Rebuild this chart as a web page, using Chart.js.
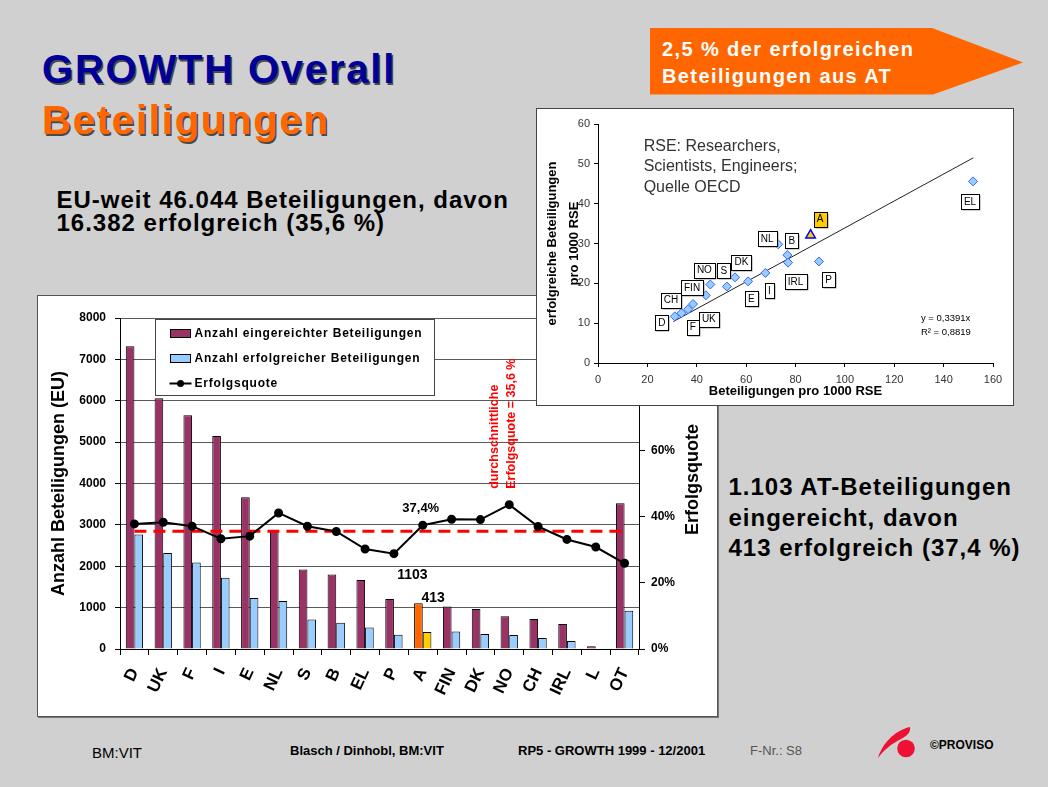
<!DOCTYPE html>
<html lang="de">
<head>
<meta charset="utf-8">
<title>GROWTH Overall Beteiligungen</title>
<script src="https://cdn.jsdelivr.net/npm/chart.js@4.4.0/dist/chart.umd.min.js"></script>
<style>
  body { margin: 0; }
  #slide { position: relative; width: 1048px; height: 787px; background: #d0d0d0; overflow: hidden;
    font-family: "Liberation Sans", Arial, sans-serif; }
  .txt { position: absolute; white-space: nowrap; line-height: 1; }
  .title { font-weight: bold; font-size: 40px; letter-spacing: 1.8px; text-shadow: 1.5px 1.5px 0 #4a4a4a; }
  .big { font-weight: bold; font-size: 24px; letter-spacing: 1px; color: #000; }
  .banner { font-weight: bold; font-size: 20px; letter-spacing: 1.4px; color: #fff; }
  .foot { font-size: 13px; font-weight: bold; color: #000; }
  #mainBox { position: absolute; left: 37px; top: 295px; width: 681px; height: 422px; box-sizing: border-box;
    background: #fff; border: 1px solid #555; box-shadow: 1px 1px 0 #777; }
  #rseBox { position: absolute; left: 536px; top: 108px; width: 478px; height: 298px; box-sizing: border-box;
    background: #fff; border: 1px solid #444; z-index: 2; }
  canvas { position: absolute; left: 0; top: 0; }
</style>
</head>
<body>
<div id="slide">
  <div class="txt title" style="left:42px; top:48.6px; color:#000099;">GROWTH Overall</div>
  <div class="txt title" style="left:42px; top:100px; color:#FF6600;">Beteiligungen</div>

  <div class="txt big" style="left:56.5px; top:188px;">EU-weit 46.044 Beteiligungen, davon</div>
  <div class="txt big" style="left:56.5px; top:211.4px;">16.382 erfolgreich (35,6 %)</div>

  <svg style="position:absolute; left:650px; top:28px;" width="374" height="67">
    <polygon points="0,0 282,0 373,34.5 283,66.5 0,66.5" fill="#FF6600"/>
  </svg>
  <div class="txt banner" style="left:662px; top:39.1px;">2,5 % der erfolgreichen</div>
  <div class="txt banner" style="left:662px; top:66.4px;">Beteiligungen aus AT</div>

  <div class="txt big" style="left:728.5px; top:474.7px;">1.103 AT-Beteiligungen</div>
  <div class="txt big" style="left:728.5px; top:506.4px;">eingereicht, davon</div>
  <div class="txt big" style="left:728.5px; top:536.4px;">413 erfolgreich (37,4 %)</div>

  <div id="mainBox"><canvas id="mainChart" width="679" height="420"></canvas></div>
  <div id="rseBox"><canvas id="rseChart" width="476" height="296"></canvas></div>

  <div class="txt" style="left:92px; top:744.7px; font-size:15px; color:#000;">BM:VIT</div>
  <div class="txt foot" style="left:290px; top:743.6px;">Blasch / Dinhobl, BM:VIT</div>
  <div class="txt foot" style="left:518px; top:743.6px;">RP5 - GROWTH 1999 - 12/2001</div>
  <div class="txt" style="left:750px; top:743.6px; font-size:13px; color:#555;">F-Nr.: S8</div>
  <svg style="position:absolute; left:875px; top:725px;" width="44" height="40">
    <path d="M3,33 C7,20 18,6 35,2 C36,7 32,11 26,14 C16,19 9,25 3,33 Z" fill="#EE1133"/>
    <circle cx="31" cy="23.5" r="8.8" fill="#EE1133"/>
  </svg>
  <div class="txt" style="left:930px; top:739px; font-size:12px; font-weight:bold; color:#000;">©PROVISO</div>
</div>

<script>
// ---- main chart: Beteiligungen je Land ----
const countries = ['D', 'UK', 'F', 'I', 'E', 'NL', 'S', 'B', 'EL', 'P', 'A', 'FIN', 'DK', 'NO', 'CH', 'IRL', 'L', 'OT'];
const submitted = [7320, 6060, 5650, 5150, 3670, 2850, 1920, 1800, 1670, 1210, 1103, 1030, 965, 790, 725, 605, 65, 3520];
const successful = [2770, 2320, 2090, 1720, 1230, 1160, 715, 635, 520, 345, 413, 420, 360, 340, 265, 195, 15, 925];
const successRate = [37.8, 38.3, 37.1, 33.3, 34.1, 41.1, 37.1, 35.5, 30.2, 28.8, 37.4, 39.2, 39.1, 43.6, 37.0, 33.1, 30.8, 25.9];
const avgRate = 35.6;
const countTicks = [0, 1000, 2000, 3000, 4000, 5000, 6000, 7000, 8000];
const rateTicks = [0, 20, 40, 60, 80, 100];

// ---- inset: Beteiligungen pro 1000 RSE ----
const rseX = [31.1, 33.8, 36.5, 38.5, 43.7, 45.5, 52.2, 55.5, 60.8, 67.8, 73.0, 76.7, 77.0, 89.5, 151.9];
const rseY = [11.7, 12.5, 13.5, 14.8, 17.0, 19.7, 19.2, 21.5, 20.5, 22.6, 29.8, 27.1, 25.2, 25.5, 45.6];
const atX = [86.1];
const atY = [32.1];
const trendX = [30.5, 152];
const trendY = [10.4, 51.5];
const boxNames = ['D', 'CH', 'F', 'UK', 'FIN', 'NO', 'S', 'DK', 'E', 'I', 'NL', 'B', 'A', 'IRL', 'P', 'EL'];
const boxX = [25.9, 29.6, 38.4, 44.9, 38.1, 43.1, 51.0, 58.1, 62.1, 69.4, 68.5, 78.5, 90.0, 80.0, 93.4, 150.7];
const boxY = [10.2, 15.8, 9.0, 11.0, 19.0, 23.3, 23.2, 25.3, 16.1, 18.2, 31.2, 30.7, 36.1, 20.4, 21.0, 40.5];

const FONT = '"Liberation Sans", Arial, sans-serif';
Chart.defaults.font.family = FONT;

const atIndex = countries.indexOf('A');

// annotations, right axis title and the in-plot legend
const mainNotes = {
  id: 'mainNotes',
  afterDatasetsDraw(chart) {
    const {ctx, scales: {x}} = chart;
    const a = chart.chartArea;
    const redBar = chart.getDatasetMeta(0).data[atIndex];
    const yelBar = chart.getDatasetMeta(1).data[atIndex];
    const ratePt = chart.getDatasetMeta(2).data[atIndex];
    ctx.save();
    ctx.fillStyle = '#000';
    ctx.textAlign = 'center';
    ctx.textBaseline = 'middle';
    ctx.font = 'bold 13px ' + FONT;
    ctx.fillText('37,4%', ratePt.x - 2, ratePt.y - 17);
    ctx.font = 'bold 14px ' + FONT;
    ctx.fillText(String(submitted[atIndex]), redBar.x - 6, redBar.y - 28);
    ctx.fillText(String(successful[atIndex]), yelBar.x + 6, yelBar.y - 34);

    // rotated red note
    const noX = x.getPixelForValue(countries.indexOf('NO'));
    const baseY = chart.scales.y1.getPixelForValue(48.4);
    ctx.fillStyle = '#FF0000';
    ctx.font = 'bold 12.5px ' + FONT;
    ctx.textAlign = 'left';
    ctx.save();
    ctx.translate(noX - 14.4, baseY);
    ctx.rotate(-Math.PI / 2);
    ctx.fillText('durchschnittliche', 0, 0);
    ctx.restore();
    ctx.save();
    ctx.translate(noX + 2.2, baseY);
    ctx.rotate(-Math.PI / 2);
    ctx.fillText('Erfolgsquote = 35,6 %', 0, 0);
    ctx.restore();

    // right axis title
    ctx.fillStyle = '#000';
    ctx.font = 'bold 18px ' + FONT;
    ctx.textAlign = 'center';
    ctx.save();
    ctx.translate(a.right + 54, (a.top + a.bottom) / 2 - 4);
    ctx.rotate(-Math.PI / 2);
    ctx.fillText('Erfolgsquote', 0, 0);
    ctx.restore();
    ctx.restore();
  },
  afterDraw(chart) {
    const {ctx} = chart;
    const a = chart.chartArea;
    const ds = chart.data.datasets;
    const bx = Math.round(a.left + 35) + 0.5, by = Math.round(a.top + 1) + 0.5, bw = 279, bh = 76;
    ctx.save();
    ctx.fillStyle = '#fff';
    ctx.fillRect(bx, by, bw, bh);
    ctx.strokeStyle = '#444';
    ctx.lineWidth = 1;
    ctx.strokeRect(bx, by, bw, bh);
    ctx.font = 'bold 12px ' + FONT;
    ctx.letterSpacing = '0.8px';
    ctx.textBaseline = 'middle';
    ctx.textAlign = 'left';
    for (let i = 0; i < 3; i++) {
      const cy = by + 14 + i * 25;
      const sx = bx + 15;
      if (i < 2) {
        ctx.fillStyle = ds[i].backgroundColor[0];
        ctx.fillRect(sx, cy - 4, 20, 8);
        ctx.strokeStyle = '#000';
        ctx.strokeRect(sx, cy - 4, 20, 8);
      } else {
        ctx.strokeStyle = '#000';
        ctx.lineWidth = 2;
        ctx.beginPath();
        ctx.moveTo(sx - 1, cy);
        ctx.lineTo(sx + 21, cy);
        ctx.stroke();
        ctx.fillStyle = '#000';
        ctx.beginPath();
        ctx.arc(sx + 10, cy, 3.5, 0, Math.PI * 2);
        ctx.fill();
      }
      ctx.fillStyle = '#000';
      ctx.fillText(ds[i].label, sx + 24, cy + 0.5);
    }
    ctx.restore();
  }
};

new Chart(document.getElementById('mainChart'), {
  type: 'bar',
  data: {
    labels: countries,
    datasets: [
      {
        label: 'Anzahl eingereichter Beteiligungen',
        data: submitted,
        backgroundColor: countries.map(c => c === 'A' ? '#FF6600' : '#993366'),
        borderColor: '#000',
        borderWidth: 1,
        categoryPercentage: 0.6,
        barPercentage: 1,
        yAxisID: 'y',
        order: 2
      },
      {
        label: 'Anzahl erfolgreicher Beteiligungen',
        data: successful,
        backgroundColor: countries.map(c => c === 'A' ? '#FFCC00' : '#99CCFF'),
        borderColor: '#000',
        borderWidth: 1,
        categoryPercentage: 0.6,
        barPercentage: 1,
        yAxisID: 'y',
        order: 3
      },
      {
        type: 'line',
        label: 'Erfolgsquote',
        data: successRate,
        yAxisID: 'y1',
        borderColor: '#000',
        borderWidth: 2,
        pointRadius: 3.5,
        pointBackgroundColor: '#000',
        pointBorderColor: '#000',
        order: 0
      },
      {
        type: 'line',
        label: 'durchschnittliche Erfolgsquote',
        data: countries.map(() => avgRate),
        yAxisID: 'y1',
        borderColor: '#FF0000',
        borderWidth: 3,
        borderDash: [12, 7],
        pointRadius: 0,
        order: 1
      }
    ]
  },
  options: {
    responsive: false,
    animation: false,
    layout: { padding: { top: 22, left: 0, right: 0, bottom: 0 } },
    plugins: { legend: { display: false }, tooltip: { enabled: false } },
    scales: {
      x: {
        grid: { display: true, drawOnChartArea: false, offset: true, tickLength: 6, tickColor: '#000' },
        border: { color: '#000' },
        ticks: { font: { size: 17, weight: 'bold' }, color: '#000', minRotation: 65, maxRotation: 65, padding: 10, autoSkip: false },
        afterFit: s => { s.height = 67; }
      },
      y: {
        position: 'left',
        min: 0,
        max: 8000,
        afterBuildTicks: s => { s.ticks = countTicks.map(v => ({ value: v })); },
        ticks: { font: { size: 12, weight: 'bold' }, color: '#000', padding: 9, callback: v => String(v) },
        grid: { color: '#5a5a5a', lineWidth: 1, tickLength: 5, tickColor: '#000' },
        border: { color: '#000' },
        title: { display: true, text: 'Anzahl Beteiligungen (EU)', color: '#000',
          font: { size: 18, weight: 'bold' }, padding: { top: 10, bottom: 0 } },
        afterFit: s => { s.width = 82; }
      },
      y1: {
        position: 'right',
        min: 0,
        max: 100,
        afterBuildTicks: s => { s.ticks = rateTicks.map(v => ({ value: v })); },
        ticks: { font: { size: 12, weight: 'bold' }, color: '#000', padding: 6, callback: v => v + '%' },
        grid: { drawOnChartArea: false, tickLength: 6, tickColor: '#000' },
        border: { color: '#000' },
        afterFit: s => { s.width = 78; }
      }
    }
  },
  plugins: [mainNotes]
});

// inset labels and notes
const rseNotes = {
  id: 'rseNotes',
  afterDatasetsDraw(chart) {
    const {ctx, scales: {x, y}} = chart;
    ctx.save();
    ctx.font = '10px ' + FONT;
    ctx.textAlign = 'center';
    ctx.textBaseline = 'middle';
    boxNames.forEach((name, i) => {
      const px = x.getPixelForValue(boxX[i]);
      const py = y.getPixelForValue(boxY[i]);
      const w = Math.round(ctx.measureText(name).width) + 6, h = 15;
      const bx = Math.round(px - w / 2) + 0.5, by = Math.round(py - h / 2) + 0.5;
      ctx.fillStyle = '#999';
      ctx.fillRect(bx + 1, by + 1, w, h);
      ctx.fillStyle = name === 'A' ? '#FFCC00' : '#fff';
      ctx.fillRect(bx, by, w, h);
      ctx.strokeStyle = '#000';
      ctx.lineWidth = 1;
      ctx.strokeRect(bx, by, w, h);
      ctx.fillStyle = '#000';
      ctx.fillText(name, px, py + 0.5);
    });

    ctx.textAlign = 'left';
    ctx.fillStyle = '#333';
    ctx.font = '16px ' + FONT;
    const nx = x.getPixelForValue(18.5);
    const ny = y.getPixelForValue(54.4);
    ['RSE: Researchers,', 'Scientists, Engineers;', 'Quelle OECD'].forEach((t, i) => {
      ctx.fillText(t, nx, ny + i * 20.5);
    });

    ctx.fillStyle = '#000';
    ctx.font = '9.5px ' + FONT;
    const ex = x.getPixelForValue(130.8);
    ctx.fillText('y = 0,3391x', ex, y.getPixelForValue(11.1));
    ctx.fillText('R² = 0,8819', ex, y.getPixelForValue(7.8));
    ctx.restore();
  }
};

new Chart(document.getElementById('rseChart'), {
  type: 'scatter',
  data: {
    datasets: [
      {
        label: 'Länder',
        data: rseX.map((v, i) => ({ x: v, y: rseY[i] })),
        pointStyle: 'rectRot',
        pointRadius: 4.5,
        backgroundColor: '#99CCFF',
        borderColor: '#3366FF',
        borderWidth: 1,
        order: 1
      },
      {
        label: 'A',
        data: atX.map((v, i) => ({ x: v, y: atY[i] })),
        pointStyle: 'triangle',
        pointRadius: 5.5,
        backgroundColor: '#FFCC00',
        borderColor: '#0000FF',
        borderWidth: 1.5,
        order: 0
      },
      {
        type: 'line',
        label: 'Trend',
        data: trendX.map((v, i) => ({ x: v, y: trendY[i] })),
        borderColor: '#222',
        borderWidth: 1,
        pointRadius: 0,
        order: 2
      }
    ]
  },
  options: {
    responsive: false,
    animation: false,
    layout: { padding: { top: 15, right: 20, left: 0, bottom: 0 } },
    plugins: { legend: { display: false }, tooltip: { enabled: false } },
    scales: {
      x: {
        type: 'linear',
        min: 0,
        max: 160,
        ticks: { stepSize: 20, font: { size: 11 }, color: '#333', padding: 6 },
        grid: { drawOnChartArea: false, tickLength: 4, tickColor: '#000' },
        border: { color: '#000' },
        title: { display: true, text: 'Beteiligungen pro 1000 RSE', color: '#000',
          font: { size: 13, weight: 'bold' }, padding: { top: 0, bottom: 6 } },
        afterFit: s => { s.height = 42; }
      },
      y: {
        min: 0,
        max: 60,
        ticks: { stepSize: 10, font: { size: 11 }, color: '#333', padding: 4 },
        grid: { drawOnChartArea: false, tickLength: 4, tickColor: '#000' },
        border: { color: '#000' },
        title: { display: true, text: ['erfolgreiche Beteiligungen', 'pro 1000 RSE'], color: '#000',
          font: { size: 13, weight: 'bold', lineHeight: 1.7 }, padding: { top: 4, bottom: 0 } },
        afterFit: s => { s.width = 61; }
      }
    }
  },
  plugins: [rseNotes]
});
</script>
</body>
</html>
